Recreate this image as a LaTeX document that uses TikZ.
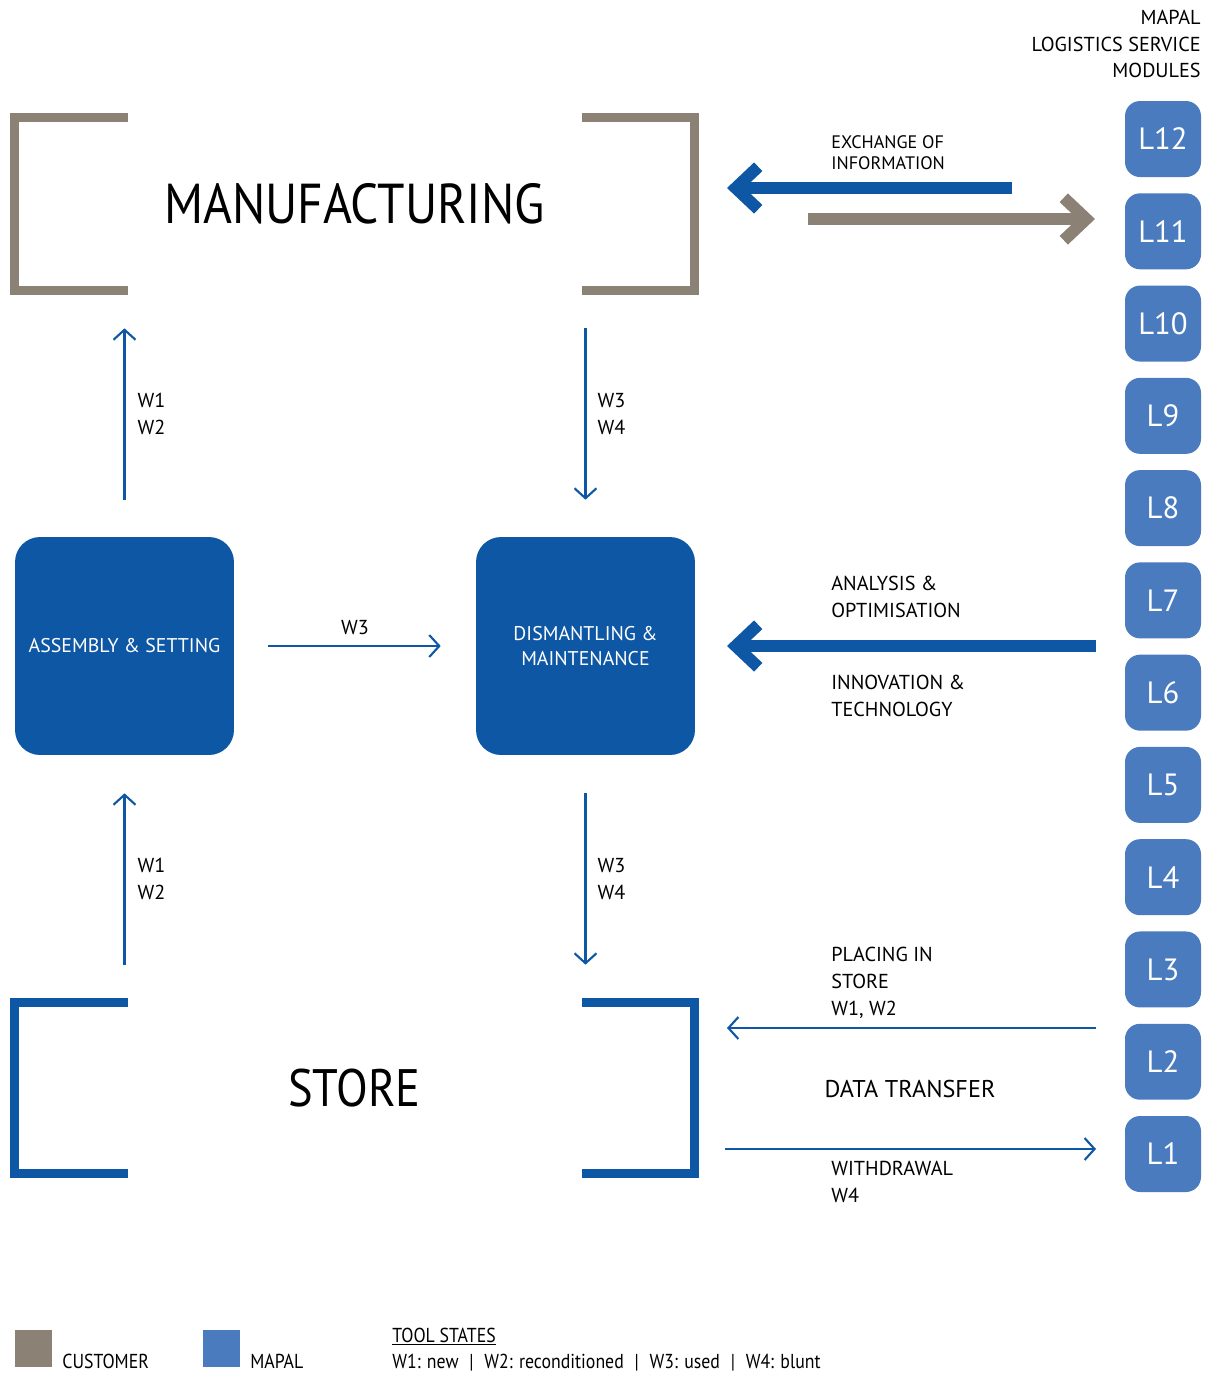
\documentclass[tikz,border=0pt]{standalone}
\usepackage{fontspec}
\setmainfont{PT Sans}
\newfontfamily\narrowfont[FakeStretch=0.88]{PT Sans}
\usetikzlibrary{arrows.meta,positioning}
\definecolor{custgray}{HTML}{8B8275}
\definecolor{mapalblue}{HTML}{0D57A5}
\definecolor{modblue}{HTML}{4A7BBF}
\newcommand{\statesep}{\hspace{0.3em}|\hspace{0.3em}}

\begin{document}
\begin{tikzpicture}[
    x=0.02cm, y=-0.02cm,
    area/.style={rectangle, inner sep=0pt},
    bracket/.style={line width=0.18cm, line join=miter},
    stage/.style={rectangle, rounded corners=0.5cm, fill=mapalblue, text=white, minimum width=4.38cm, minimum height=4.36cm, align=center, font=\fontsize{11.3}{14}\selectfont},
    module/.style={rectangle, rounded corners=0.3cm, fill=modblue, text=white, minimum size=1.52cm, inner sep=0pt, font=\fontsize{17.5}{20}\selectfont},
    flow/.style={-{Straight Barb[length=2mm,width=4.4mm]}, mapalblue, line width=1.2pt},
    bigflow/.style={-{Straight Barb[length=4.5mm,width=8.5mm]}, line width=0.24cm},
    tag/.style={align=left, inner sep=0pt, text=black, font=\fontsize{11.5}{15.3}\selectfont},
    keytext/.style={inner sep=0pt, text=black, font=\narrowfont\fontsize{11.5}{14}\selectfont},
    swatch/.style={rectangle, minimum size=0.74cm, inner sep=0pt}
]
\useasboundingbox (0,0) rectangle (1210,1374);

% Customer areas
\node[area, minimum width=13.6cm, minimum height=3.46cm, font=\narrowfont\fontsize{32}{36}\selectfont] (mfg) at (354.5,204) {MANUFACTURING};
\node[area, minimum width=13.6cm, minimum height=3.42cm, font=\narrowfont\fontsize{30}{36}\selectfont] (store) at (354.5,1088) {STORE};

\draw[bracket, custgray] (mfg.north west) ++(113.5,0) -- (mfg.north west) -- (mfg.south west) -- ++(113.5,0);
\draw[bracket, custgray] (mfg.north east) ++(-112.5,0) -- (mfg.north east) -- (mfg.south east) -- ++(-112.5,0);
\draw[bracket, mapalblue] (store.north west) ++(113.5,0) -- (store.north west) -- (store.south west) -- ++(113.5,0);
\draw[bracket, mapalblue] (store.north east) ++(-112.5,0) -- (store.north east) -- (store.south east) -- ++(-112.5,0);

% Stages
\node[stage] (asm) at (124.5,646) {ASSEMBLY \& SETTING};
\node[stage] (dis) at (585.5,646) {DISMANTLING \&\\MAINTENANCE};

% Tool flow
\draw[flow, shorten <=0.74cm, shorten >=0.75cm] (asm.north) -- (asm.north |- mfg.south)
    node[midway, right=0.24cm, tag] {W1\\W2};
\draw[flow, shorten <=0.75cm, shorten >=0.74cm] (dis.north |- mfg.south) -- (dis.north)
    node[midway, right=0.22cm, tag] {W3\\W4};
\draw[flow, shorten <=0.68cm, shorten >=0.7cm] (asm.east) -- (dis.west)
    node[midway, above=0.2cm, tag] {W3};
\draw[flow, shorten <=0.75cm, shorten >=0.76cm] (asm.south |- store.north) -- (asm.south)
    node[midway, right=0.24cm, tag] {W1\\W2};
\draw[flow, shorten <=0.76cm, shorten >=0.75cm] (dis.south) -- (dis.south |- store.north)
    node[midway, right=0.22cm, tag] {W3\\W4};

% Service modules
\node[anchor=north east, align=right, inner sep=0pt, font=\fontsize{11.5}{15}\selectfont] (title) at (1201,10) {MAPAL\\LOGISTICS SERVICE\\MODULES};
\foreach \i in {1,...,12}
    \node[module] (L\i) at (1163,{1154-92.27*(\i-1)}) {L\i};

% Links to the modules
\coordinate (infoA) at (1012,188);
\coordinate (infoB) at (727,188);
\coordinate (infoC) at (808,219);
\coordinate (infoD) at (1095,219);
\coordinate (analA) at (1096,646);
\coordinate (analB) at (727,646);
\coordinate (placeA) at (1096,1028);
\coordinate (placeB) at (727,1028);
\coordinate (drawA) at (725,1149);
\coordinate (drawB) at (1096,1149);

\draw[bigflow, mapalblue] (infoA) -- (infoB);
\draw[bigflow, custgray] (infoC) -- (infoD);
\node[tag, anchor=west, font=\fontsize{10.3}{12}\selectfont] (info) at (831,152.5) {EXCHANGE OF\\INFORMATION};

\draw[bigflow, mapalblue] (analA) -- (analB);
\node[tag, anchor=west] (anal) at (831,596.5) {ANALYSIS \&\\OPTIMISATION};
\node[tag, anchor=west] (inno) at (831,696) {INNOVATION \&\\TECHNOLOGY};

\draw[flow] (placeA) -- (placeB);
\node[tag, anchor=west] (place) at (831,983) {PLACING IN\\STORE\\W1, W2};
\node[font=\fontsize{13.8}{18}\selectfont, inner sep=0pt] (data) at (910,1089) {DATA TRANSFER};
\draw[flow] (drawA) -- (drawB);
\node[tag, anchor=west] (withdraw) at (831,1181.5) {WITHDRAWAL\\W4};

% Legend
\node[swatch, fill=custgray] (custkey) at (33.5,1348.5) {};
\node[keytext, anchor=base west] (custtext) at (62,1368) {CUSTOMER};
\node[swatch, fill=modblue] (mapalkey) at (221.5,1348.5) {};
\node[keytext, anchor=base west] (mapaltext) at (250,1368) {MAPAL};
\node[keytext, anchor=base west] (statehead) at (392,1342) {\underline{TOOL STATES}};
\node[keytext, anchor=base west] (states) at (392,1368) {W1: new \statesep{} W2: reconditioned \statesep{} W3: used \statesep{} W4: blunt};
\end{tikzpicture}
\end{document}
